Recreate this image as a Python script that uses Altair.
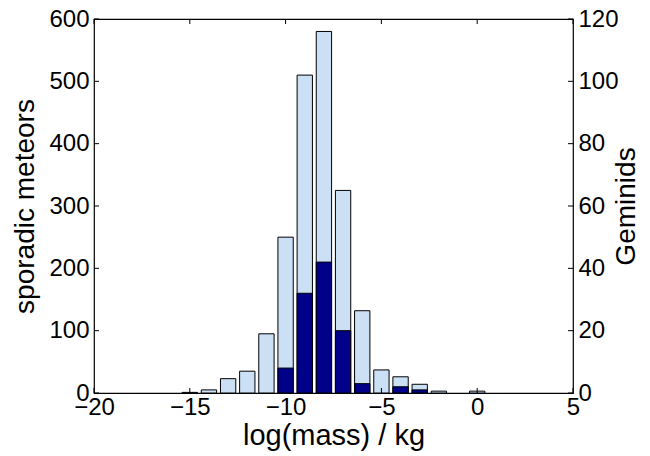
import altair as alt
import pandas as pd

# data
mass_bins = [-15, -14, -13, -12, -11, -10, -9, -8, -7, -6, -5, -4, -3, -2, 0]
sporadic = [1, 5, 23, 35, 95, 250, 510, 580, 325, 132, 37, 26, 14, 3, 3]
gem_bins = [-10, -9, -8, -7, -6, -4, -3]
geminids = [8, 32, 42, 20, 3, 2, 1]

x_ticks = [-20, -15, -10, -5, 0, 5]
left_ticks = [0, 100, 200, 300, 400, 500, 600]
right_ticks = [0, 20, 40, 60, 80, 100, 120]

W, H = 479, 374
FONT = "Liberation Sans"
FS = 24
TFS = 28
TL = 5  # inward tick length

spor_df = pd.DataFrame({"m": mass_bins, "n": sporadic})
gem_df = pd.DataFrame({"m": gem_bins, "n": geminids})
xt_df = pd.DataFrame({"v": x_ticks})
lt_df = pd.DataFrame({"v": left_ticks})
rt_df = pd.DataFrame({"v": right_ticks})

xscale = alt.Scale(domain=[-20, 5], nice=False, zero=False)
lscale = alt.Scale(domain=[0, 600], nice=False)
rscale = alt.Scale(domain=[0, 120], nice=False)

minus_expr = "datum.value < 0 ? '\u2212' + toString(abs(datum.value)) : toString(datum.value)"

x_axis = alt.Axis(values=x_ticks, ticks=False, tickSize=0, domain=False, grid=False,
                  labelPadding=2, labelFlush=False, labelOverlap=False,
                  title="log(mass) / kg", titlePadding=2, titleFontSize=29,
                  labelExpr=minus_expr)
l_axis = alt.Axis(values=left_ticks, ticks=False, tickSize=0, domain=False, grid=False,
                  labelPadding=5, labelFlush=False, title="sporadic meteors", titlePadding=9)
r_axis = alt.Axis(orient="right", values=right_ticks, ticks=False, tickSize=0, domain=False,
                  grid=False, labelPadding=5, labelFlush=False, title="Geminids",
                  titlePadding=22, titleAngle=270)

light = alt.Chart(spor_df).transform_calculate(
    x0="datum.m - 0.4", x1="datum.m + 0.4"
).mark_bar(color="#cce0f5", stroke="black", strokeWidth=1).encode(
    x=alt.X("x0:Q", scale=xscale, axis=x_axis),
    x2="x1:Q",
    y=alt.Y("n:Q", scale=lscale, axis=l_axis),
    y2=alt.datum(0),
)

lt_rule = alt.Chart(lt_df).mark_rule(color="black", strokeWidth=1).encode(
    y=alt.Y("v:Q", scale=lscale, axis=l_axis), x=alt.value(0), x2=alt.value(TL)
)
xb_rule = alt.Chart(xt_df).mark_rule(color="black", strokeWidth=1).encode(
    x=alt.X("v:Q", scale=xscale, axis=x_axis), y=alt.value(H), y2=alt.value(H - TL)
)
xt_rule = alt.Chart(xt_df).mark_rule(color="black", strokeWidth=1).encode(
    x=alt.X("v:Q", scale=xscale, axis=x_axis), y=alt.value(0), y2=alt.value(TL)
)

dark = alt.Chart(gem_df).transform_calculate(
    x0="datum.m - 0.4", x1="datum.m + 0.4"
).mark_bar(color="#000088", stroke="black", strokeWidth=1).encode(
    x=alt.X("x0:Q", scale=xscale, axis=x_axis),
    x2="x1:Q",
    y=alt.Y("n:Q", scale=rscale, axis=r_axis),
    y2=alt.datum(0),
)
rt_rule = alt.Chart(rt_df).mark_rule(color="black", strokeWidth=1).encode(
    y=alt.Y("v:Q", scale=rscale, axis=r_axis), x=alt.value(W - TL), x2=alt.value(W)
)

left_layer = alt.layer(light, lt_rule, xb_rule, xt_rule)
right_layer = alt.layer(dark, rt_rule)

chart = alt.layer(left_layer, right_layer).resolve_scale(y="independent").properties(
    width=W, height=H, autosize=alt.AutoSizeParams(type="none"),
    padding={"left": 94, "top": 19, "right": 650 - 94 - W, "bottom": 456 - 19 - H},
    background="white",
).configure_view(stroke="black", strokeWidth=1.2).configure_axis(
    labelFont=FONT, titleFont=FONT, labelFontSize=FS, titleFontSize=TFS,
    titleFontWeight="normal", labelColor="black", titleColor="black",
)

chart.save("out.html", embed_options={"renderer": "svg", "actions": False})
